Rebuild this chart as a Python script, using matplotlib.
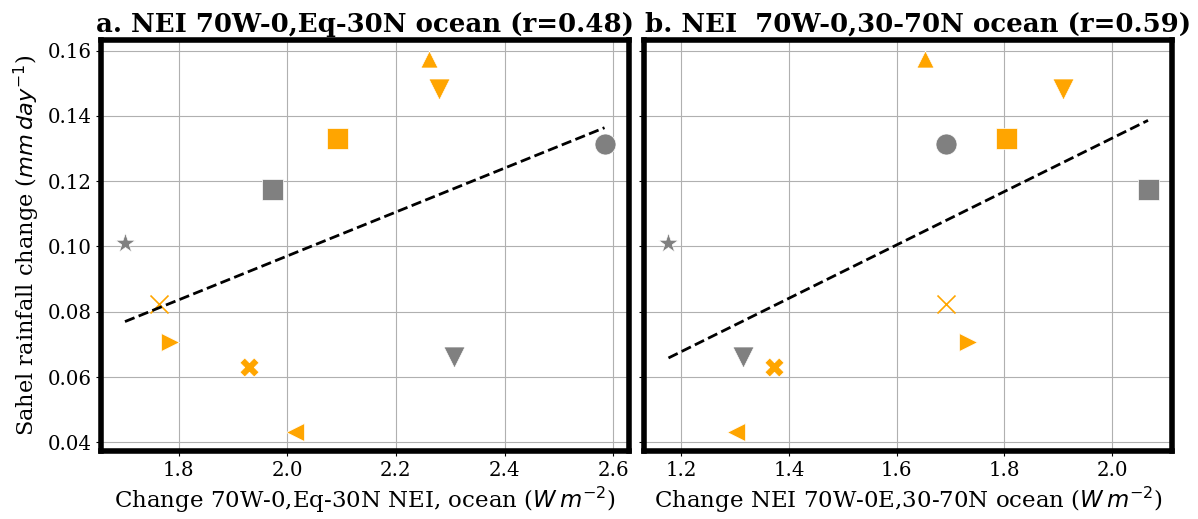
import numpy as np
import matplotlib
matplotlib.use("Agg")
import matplotlib.pyplot as plt

plt.rcParams["font.family"] = "DejaVu Serif"

# one entry per model, same order in every list
rain_change = [0.101, 0.0824, 0.0707, 0.0632, 0.0431, 0.0662, 0.1175, 0.1331, 0.1575, 0.1483, 0.1314]
nei_eq30 = [1.701, 1.764, 1.783, 1.930, 2.014, 2.307, 1.971, 2.092, 2.261, 2.280, 2.584]
nei_30_70 = [1.176, 1.691, 1.732, 1.372, 1.301, 1.315, 2.067, 1.803, 1.653, 1.909, 1.692]

titles = ["a. NEI 70W-0,Eq-30N ocean (r=0.48)", "b. NEI  70W-0,30-70N ocean (r=0.59)"]
xlabels = [r"Change 70W-0,Eq-30N NEI, ocean ($W\,m^{-2}$)",
           r"Change NEI 70W-0E,30-70N ocean ($W\,m^{-2}$)"]
ylabel = r"Sahel rainfall change ($mm\,day^{-1}$)"

# styles
markers = ["*", "x", ">", "X", "<", "v", "s", "s", "^", "v", "o"]
colors = ["gray", "orange", "orange", "orange", "orange", "gray", "gray", "orange", "orange", "orange", "gray"]
marker_px = [21, 18, 18, 19, 18, 21, 21, 21, 17, 21, 21]
title_x = [0.5, 0.518]

fig, axes = plt.subplots(1, 2, figsize=(11.98, 5.19), dpi=100, sharey=True)
fig.subplots_adjust(left=0.0843, right=0.9783, top=0.9229, bottom=0.131, wspace=0.0303)

for ax, xdata, title, xlab, tx in zip(axes, [nei_eq30, nei_30_70], titles, xlabels, title_x):
    for xi, yi, m, c, px in zip(xdata, rain_change, markers, colors, marker_px):
        s = (px * 72 / 100) ** 2
        if m == "x":
            ax.scatter(xi, yi, marker=m, s=s, color=c, linewidths=1.2, zorder=3)
        else:
            ax.scatter(xi, yi, marker=m, s=s, color=c, edgecolors="white", linewidths=0.5, zorder=3)

    # least squares fit
    x = np.array(xdata)
    y = np.array(rain_change)
    slope, icpt = np.polyfit(x, y, 1)
    xx = np.array([x.min(), x.max()])
    ax.plot(xx, slope * xx + icpt, "k--", lw=2, zorder=4)

    ax.grid(True)
    ax.set_axisbelow(True)
    for sp in ax.spines.values():
        sp.set_linewidth(4)
        sp.set_color("black")
    ax.set_title(title, fontsize=18.7, fontweight="bold", x=tx)
    ax.set_xlabel(xlab, fontsize=16.5)
    ax.tick_params(labelsize=14.2)

axes[0].set_ylabel(ylabel, fontsize=16.2)

fig.savefig("out.png", dpi=100)
